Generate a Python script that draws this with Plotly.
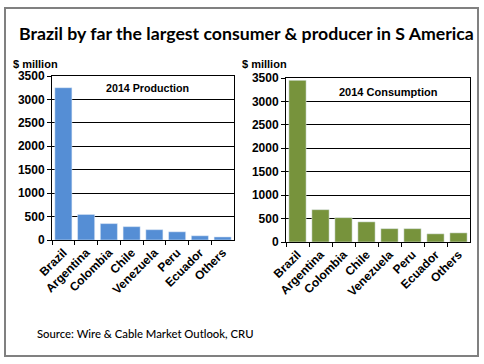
import plotly.graph_objects as go

countries = ["Brazil", "Argentina", "Colombia", "Chile", "Venezuela", "Peru", "Ecuador", "Others"]
production = [3250, 545, 350, 285, 220, 175, 90, 65]
consumption = [3450, 690, 520, 430, 285, 285, 175, 195]
y_ticks = [0, 500, 1000, 1500, 2000, 2500, 3000, 3500]

W, H = 484, 364
def px(x): return x / W
def py(y): return 1 - y / H

fig = go.Figure()
fig.add_trace(go.Bar(x=countries, y=production, marker_color="#558ED5", xaxis="x", yaxis="y", showlegend=False))
fig.add_trace(go.Bar(x=countries, y=consumption, marker_color="#77933C", xaxis="x2", yaxis="y2", showlegend=False))

tickfont = dict(family="Arial", size=12, color="black", weight="bold")
catfont = dict(family="Arial", size=12, color="black", weight="bold")
yax = dict(range=[0, 3500], tickvals=y_ticks, showgrid=True, gridcolor="black", gridwidth=1,
           ticks="outside", ticklen=4, tickcolor="black", showline=True, linecolor="black",
           mirror=True, tickfont=tickfont, zeroline=False, fixedrange=True, automargin=False)
xax = dict(tickangle=-45, ticks="outside", tickson="boundaries", ticklen=4, tickcolor="black",
           showline=True, linecolor="black", mirror=True, tickfont=catfont, fixedrange=True,
           automargin=False)

fig.update_layout(
    width=W, height=H, margin=dict(l=0, r=0, t=0, b=0, autoexpand=False),
    paper_bgcolor="white", plot_bgcolor="white", bargap=0.25,
    xaxis=dict(domain=[px(52), px(234)], anchor="y", **xax),
    yaxis=dict(domain=[py(240), py(76)], anchor="x", **yax),
    xaxis2=dict(domain=[px(286), px(470)], anchor="y2", **xax),
    yaxis2=dict(domain=[py(242), py(78)], anchor="x2", **yax),
)

ann = [
    dict(text="<b>Brazil by far the largest consumer & producer in S America</b>", x=px(246), y=py(33),
         font=dict(family="Lato", size=17.7, color="black")),
    dict(text="<b>$ million</b>", x=px(11), y=py(64), xanchor="left", font=dict(family="Arial", size=11, color="black")),
    dict(text="<b>$ million</b>", x=px(240), y=py(64), xanchor="left", font=dict(family="Arial", size=11, color="black")),
    dict(text="<b>2014 Production</b>", x=px(147.5), y=py(88), font=dict(family="Arial", size=10.7, color="black"),
         bgcolor="white"),
    dict(text="<b>2014 Consumption</b>", x=px(388.5), y=py(92), font=dict(family="Arial", size=11, color="black"),
         bgcolor="white"),
    dict(text="Source: Wire & Cable Market Outlook, CRU", x=px(35), y=py(333), xanchor="left",
         font=dict(family="Lato", size=11.3, color="black", weight=500)),
]
for a in ann:
    a.update(xref="paper", yref="paper", showarrow=False)
    a.setdefault("xanchor", "center")
    a["yanchor"] = "middle"
    fig.add_annotation(**a)

fig.add_shape(type="rect", xref="paper", yref="paper", x0=px(5), x1=px(478), y0=py(356), y1=py(8),
              line=dict(color="#808080", width=2), fillcolor="rgba(0,0,0,0)", layer="below")

fig.write_html("out.html", config={"displayModeBar": False},
               post_script="document.body.style.margin='0';document.body.style.overflow='hidden';")
